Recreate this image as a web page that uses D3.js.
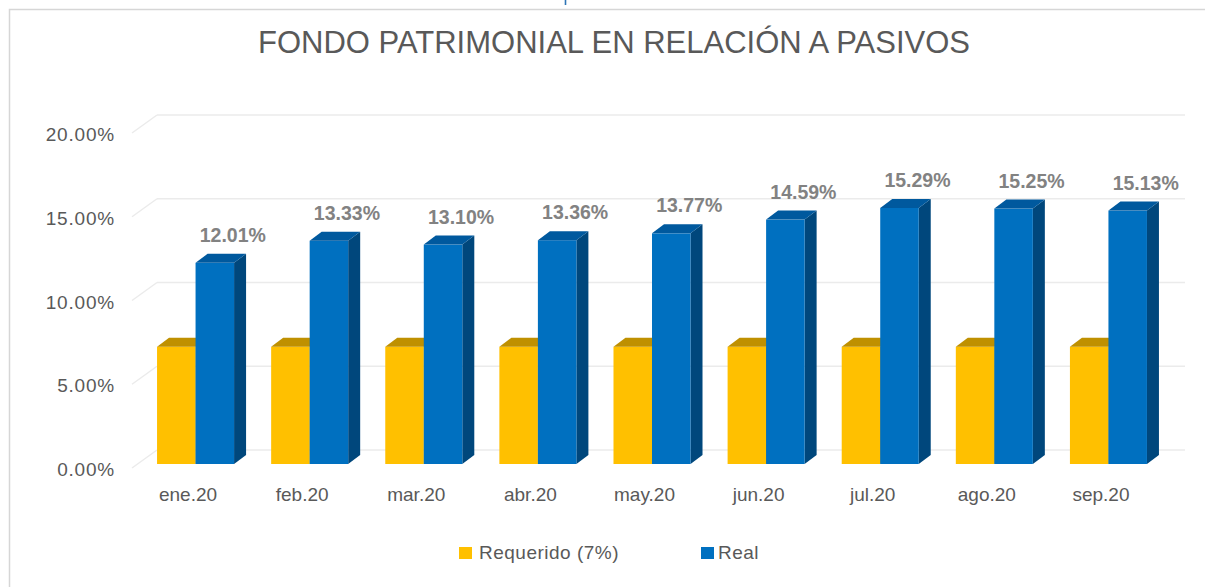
<!DOCTYPE html>
<html>
<head>
<meta charset="utf-8">
<script src="https://cdn.jsdelivr.net/npm/d3@7"></script>
<style>
  html, body { margin: 0; padding: 0; background: #ffffff; }
  svg { display: block; }
  text { font-family: "Liberation Sans", Arial, sans-serif; }
</style>
</head>
<body>
<svg id="chart" width="1205" height="587"></svg>
<script>
// ---- data ----
const categories = ["ene.20", "feb.20", "mar.20", "abr.20", "may.20", "jun.20", "jul.20", "ago.20", "sep.20"];
const requerido = [7, 7, 7, 7, 7, 7, 7, 7, 7];
const real = [12.01, 13.33, 13.10, 13.36, 13.77, 14.59, 15.29, 15.25, 15.13];
const yTicks = [0, 5, 10, 15, 20];
const seriesNames = ["Requerido (7%)", "Real"];
const titleText = "FONDO PATRIMONIAL EN RELACIÓN A PASIVOS";

// ---- layout ----
const svg = d3.select("#chart");
const W = 1205, H = 587;

const backBase = 450;   // 0% on back wall
const barBase = 464;    // 0% on bar front plane
const frontBase = 468;  // 0% on front edge (tick labels)
const wallLeft = 157, wallRight = 1185, frontLeft = 132;
const dx = 12, dy = 9;  // bar depth

const h = d3.scaleLinear().domain([0, 20]).range([0, 335]);
const x = d3.scaleBand().domain(categories).range([138.5, 1165.5])
  .paddingInner(0.325).paddingOuter(0.1625);
const xs = d3.scaleBand().domain(seriesNames).range([0, x.bandwidth()]);

const colors = {
  "Requerido (7%)": { front: "#FFC000", top: "#BF9000", side: "#A67C00" },
  "Real": { front: "#0070C0", top: "#00599E", side: "#00477C" }
};

// card border
svg.append("path")
  .attr("d", `M9.5,${H} L9.5,9.5 L${W},9.5`)
  .attr("fill", "none").attr("stroke", "#d6d6d6").attr("stroke-width", 1.5);

// small blue stroke above the card (remnant of page content above)
svg.append("line").attr("x1", 565.5).attr("x2", 565.5).attr("y1", 0).attr("y2", 5)
  .attr("stroke", "#2e75b6").attr("stroke-width", 1.6);

// title
svg.append("text")
  .attr("x", 258).attr("y", 53)
  .attr("font-size", 31)
  .attr("fill", "#595959")
  .attr("textLength", 712).attr("lengthAdjust", "spacingAndGlyphs")
  .text(titleText);

// gridlines (back wall + left side wall)
const grid = svg.append("g");
yTicks.forEach(t => {
  const yb = backBase - h(t), yf = frontBase - h(t);
  grid.append("line").attr("x1", wallLeft).attr("x2", wallRight)
    .attr("y1", yb).attr("y2", yb)
    .attr("stroke", "#ebebeb").attr("stroke-width", 1.5);
  grid.append("line").attr("x1", frontLeft).attr("y1", yf)
    .attr("x2", wallLeft).attr("y2", yb)
    .attr("stroke", "#ebebeb").attr("stroke-width", 1.5);
});

// y tick labels
const fmt = d3.format(".2f");
svg.append("g").selectAll("text").data(yTicks).join("text")
  .attr("x", 115).attr("y", d => frontBase - h(d) + 8)
  .attr("text-anchor", "end")
  .attr("font-size", 19).attr("letter-spacing", 0.8)
  .attr("fill", "#595959")
  .text(d => fmt(d) + "%");

// bars
function drawBar(g, x0, w, v, c) {
  const yt = barBase - h(v);
  // side
  g.append("path")
    .attr("d", `M${x0 + w},${barBase} L${x0 + w + dx},${barBase - dy} L${x0 + w + dx},${yt - dy} L${x0 + w},${yt} Z`)
    .attr("fill", c.side);
  // front
  g.append("rect").attr("x", x0).attr("y", yt).attr("width", w).attr("height", h(v))
    .attr("fill", c.front);
  // top
  g.append("path")
    .attr("d", `M${x0},${yt} L${x0 + w},${yt} L${x0 + w + dx},${yt - dy} L${x0 + dx},${yt - dy} Z`)
    .attr("fill", c.top);
}

const barsG = svg.append("g");
categories.forEach((cat, i) => {
  const g = barsG.append("g");
  drawBar(g, x(cat) + xs(seriesNames[0]), xs.bandwidth(), requerido[i], colors[seriesNames[0]]);
  drawBar(g, x(cat) + xs(seriesNames[1]), xs.bandwidth(), real[i], colors[seriesNames[1]]);
});

// data labels for Real
svg.append("g").selectAll("text").data(real).join("text")
  .attr("x", (d, i) => x(categories[i]) + xs(seriesNames[1]) + xs.bandwidth() / 2 + 18)
  .attr("y", d => barBase - h(d) - 21)
  .attr("text-anchor", "middle")
  .attr("font-size", 19.5).attr("font-weight", "bold")
  .attr("fill", "#828282")
  .text(d => fmt(d) + "%");

// category labels
svg.append("g").selectAll("text").data(categories).join("text")
  .attr("x", d => x(d) + x.bandwidth() / 2 - 7.5)
  .attr("y", 501)
  .attr("text-anchor", "middle")
  .attr("font-size", 19)
  .attr("fill", "#595959")
  .text(d => d);

// legend
const legendPos = [{ sx: 459, tx: 479 }, { sx: 701, tx: 718 }];
const leg = svg.append("g");
seriesNames.forEach((s, i) => {
  leg.append("rect").attr("x", legendPos[i].sx).attr("y", 547)
    .attr("width", 13).attr("height", 12).attr("fill", colors[s].front);
  leg.append("text").attr("x", legendPos[i].tx).attr("y", 559)
    .attr("font-size", 19).attr("letter-spacing", 0.5)
    .attr("fill", "#595959").text(s);
});
</script>
</body>
</html>
